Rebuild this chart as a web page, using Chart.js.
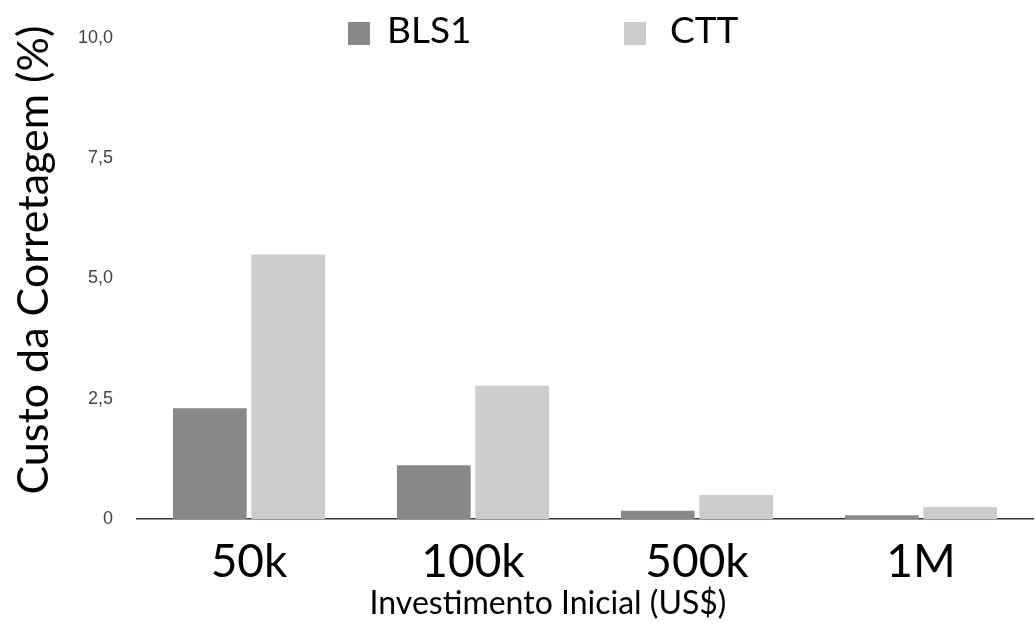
<!DOCTYPE html>
<html>
<head>
<meta charset="utf-8">
<script src="https://cdn.jsdelivr.net/npm/chart.js@4/dist/chart.umd.min.js"></script>
<style>
  html, body { margin: 0; padding: 0; background: #fff; }
</style>
</head>
<body>
<canvas id="chart" width="1035" height="642"></canvas>
<script>
const categories = ['50k', '100k', '500k', '1M'];
const seriesNames = ['BLS1', 'CTT'];
const bls1Values = [2.3, 1.12, 0.17, 0.08];
const cttValues = [5.5, 2.77, 0.5, 0.25];
const yTickValues = [0, 2.5, 5, 7.5, 10];
const yTickLabels = ['0', '2,5', '5,0', '7,5', '10,0'];
const xTitle = 'Investimento Inicial (US$)';
const yTitle = 'Custo da Corretagem (%)';

// legend and axis titles drawn by hand: none of them sit where chart.js would center them
const annotations = {
  id: 'annotations',
  afterDraw(chart) {
    const ctx = chart.ctx;
    const boxX = [348, 624];
    const textX = [387, 670];
    ctx.save();
    ctx.textBaseline = 'middle';
    ctx.font = '37px Lato';
    chart.data.datasets.forEach((ds, i) => {
      ctx.fillStyle = ds.backgroundColor;
      ctx.fillRect(boxX[i], 22, 22, 23);
      ctx.fillStyle = '#000';
      ctx.fillText(ds.label, textX[i], 31);
    });

    ctx.textAlign = 'center';
    ctx.font = '32px Lato';
    ctx.fillText(xTitle, 548, 604);

    ctx.translate(34, 260);
    ctx.rotate(-Math.PI / 2);
    ctx.font = '43px Lato';
    ctx.fillText(yTitle, 0, 0);
    ctx.restore();
  }
};

new Chart(document.getElementById('chart'), {
  type: 'bar',
  data: {
    labels: categories,
    datasets: [
      { label: seriesNames[0], data: bls1Values, backgroundColor: '#888888' },
      { label: seriesNames[1], data: cttValues, backgroundColor: '#cbcdca' }
    ]
  },
  options: {
    responsive: false,
    animation: false,
    devicePixelRatio: 1,
    categoryPercentage: 0.7,
    barPercentage: 0.94,
    layout: { padding: { top: 38, right: 2, bottom: 0, left: 0 } },
    plugins: {
      legend: { display: false },
      tooltip: { enabled: false }
    },
    scales: {
      x: {
        afterFit: s => { s.height = 123; },
        grid: { display: false, drawTicks: false },
        border: { display: true, color: '#333', width: 1.5 },
        ticks: {
          color: '#000',
          padding: 20,
          font: { family: 'Lato', size: 46, lineHeight: 1 }
        }
      },
      y: {
        min: 0,
        max: 10,
        afterBuildTicks: s => { s.ticks = yTickValues.map(v => ({ value: v })); },
        afterFit: s => { s.width = 137; },
        grid: { display: false, drawTicks: false },
        border: { display: false },
        ticks: {
          color: '#444',
          padding: 24,
          font: { family: 'Liberation Sans', size: 18 },
          callback: v => yTickLabels[yTickValues.indexOf(v)]
        }
      }
    }
  },
  plugins: [annotations]
});
</script>
</body>
</html>
